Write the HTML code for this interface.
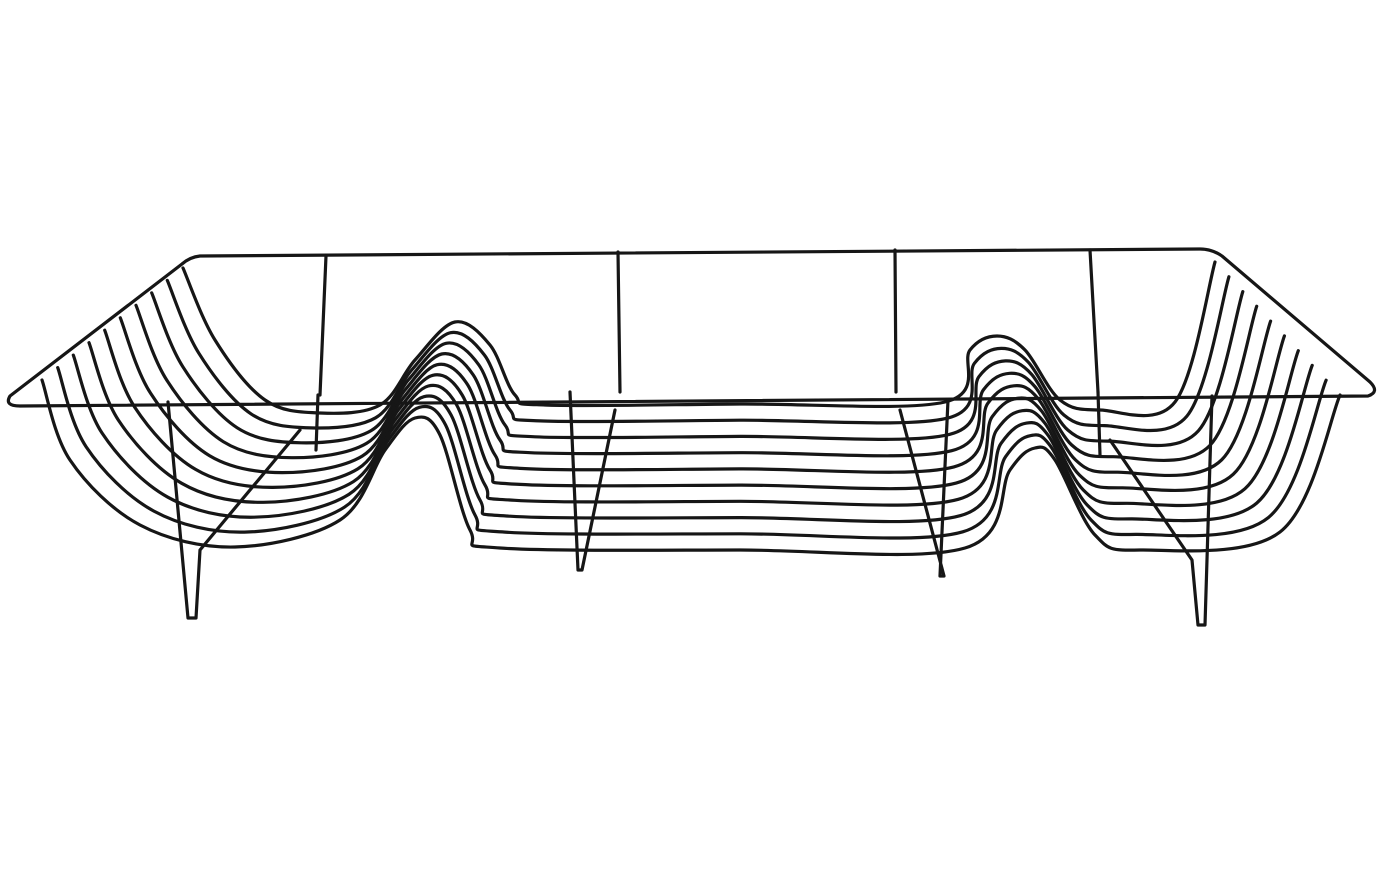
<!DOCTYPE html>
<html><head><meta charset="utf-8"><style>
html,body{margin:0;padding:0;background:#fff;}
svg{display:block;}
</style></head><body>
<svg id="s" width="1384" height="870" viewBox="0 0 1384 870" xmlns="http://www.w3.org/2000/svg">
<g fill="none" stroke="#161616" stroke-width="3.2" stroke-linecap="round" stroke-linejoin="round">
<path d="M200 256 L1200 249 Q1212 249 1222 256 L1370 382 Q1380 392 1368 396 L20 406 Q4 406 10 396 L182 264 Q190 257 200 256 Z"/>
<path d="M326 256 L320 395"/>
<path d="M618 252 L620 392"/>
<path d="M895 250 L896 392"/>
<path d="M1090 250 L1098 392"/>
<path d="M318 395 L316 450"/>
<path d="M1098 392 L1100 455"/>
<path d="M168 402 L188 618 L196 618 L200 550 L300 430"/>
<path d="M570 392 L578 570 L582 570 L615 410"/>
<path d="M948 400 L940 576 L944 576 L900 410"/>
<path d="M1212 396 L1205 625 L1198 625 L1192 560 L1110 440"/>
<g id="w"></g>
</g>
</svg>
<script>
function cr(pts){let d="M"+pts[0][0].toFixed(1)+" "+pts[0][1].toFixed(1);
for(let i=0;i<pts.length-1;i++){const p0=pts[Math.max(0,i-1)],p1=pts[i],p2=pts[i+1],p3=pts[Math.min(pts.length-1,i+2)];
const c1=[p1[0]+(p2[0]-p0[0])/6,p1[1]+(p2[1]-p0[1])/6],c2=[p2[0]-(p3[0]-p1[0])/6,p2[1]-(p3[1]-p1[1])/6];
d+=" C"+c1.map(v=>v.toFixed(1)).join(" ")+" "+c2.map(v=>v.toFixed(1)).join(" ")+" "+p2[0].toFixed(1)+" "+p2[1].toFixed(1);}return d;}
const A=[[183,268],[215,340],[265,400],[320,413],[380,405],[415,360],[455,322],[490,345],[515,395],[545,405],[740,404],[945,402],[970,350],[997,336],[1025,350],[1060,400],[1100,410],[1175,402],[1215,262]];
const B=[[42,380],[70,460],[140,525],[235,547],[340,520],[385,450],[415,418],[440,435],[470,530],[500,548],[740,550],[965,548],[1010,470],[1035,448],[1055,460],[1095,535],[1140,550],[1280,532],[1340,395]];
const g=document.getElementById("w");
for(let i=0;i<10;i++){const t=i/9;
const pts=A.map((a,k)=>[a[0]+(B[k][0]-a[0])*t,a[1]+(B[k][1]-a[1])*t]);
const p=document.createElementNS("http://www.w3.org/2000/svg","path");
p.setAttribute("d",cr(pts));g.appendChild(p);}
</script>
</body></html>
